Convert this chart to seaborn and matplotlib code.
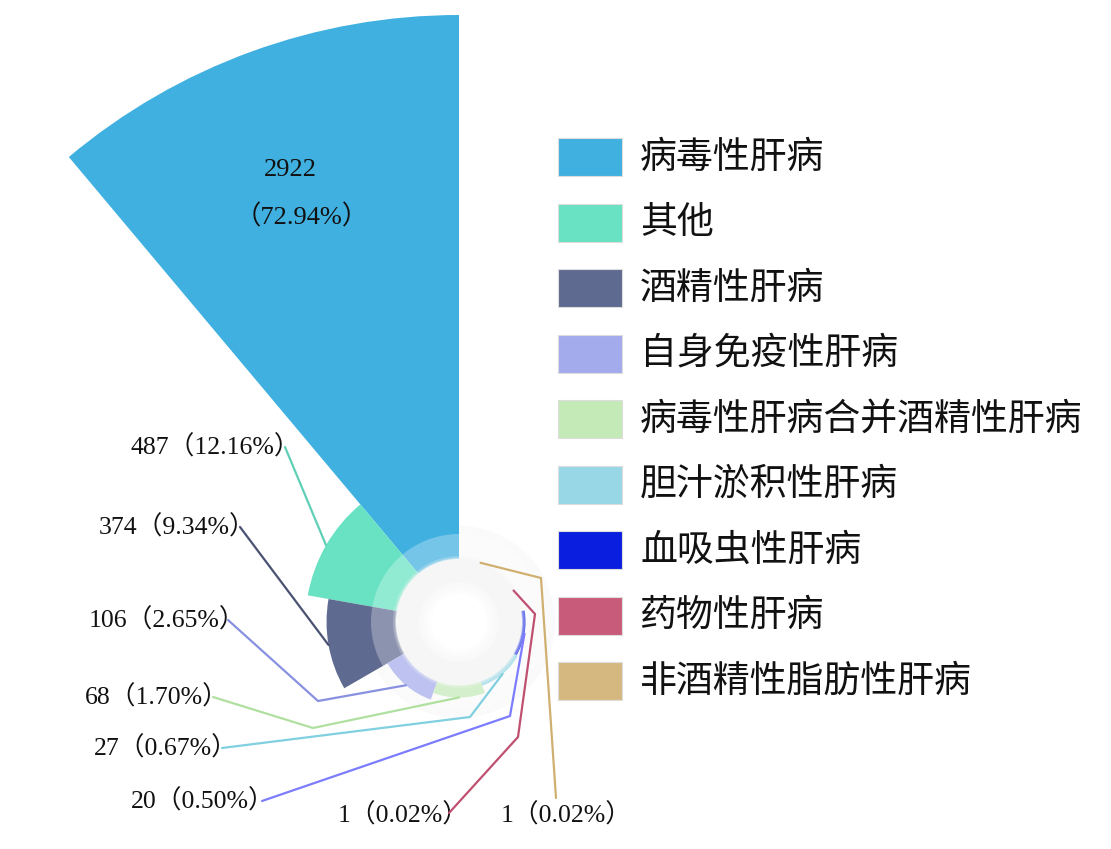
import numpy as np
import matplotlib
matplotlib.use("Agg")
import matplotlib.pyplot as plt
from matplotlib.patches import Wedge, Circle, Rectangle
import seaborn as sns

# ---------------- data ----------------
categories = ['病毒性肝病', '其他', '酒精性肝病', '自身免疫性肝病',
              '病毒性肝病合并酒精性肝病', '胆汁淤积性肝病', '血吸虫性肝病',
              '药物性肝病', '非酒精性脂肪性肝病']
counts = [2922, 487, 374, 106, 68, 27, 20, 1, 1]
colors = ['#40b0e0', '#68e2c2', '#5f6a90', '#a4abec', '#c4eab8',
          '#98d8e6', '#0a1ee0', '#c85a7a', '#d4b880']

# ---------------- style ----------------
sns.set_theme(style="white")
plt.rcParams['font.family'] = ['Noto Sans CJK SC', 'DejaVu Sans']
SERIF = ['Liberation Serif', 'Noto Sans CJK SC']

W, H = 1111, 849
fig = plt.figure(figsize=(W / 100, H / 100), dpi=100)
ax = fig.add_axes([0, 0, 1, 1])
ax.set_xlim(0, W)
ax.set_ylim(0, H)
ax.set_aspect('equal')
ax.axis('off')

def py(y):  # pixel-from-top -> data y
    return H - y

# rose layout (ECharts-like roseType radius)
CX, CY = 459, py(622)
R_MAX, R0 = 607, 63
n = len(counts)
step = 360.0 / n
vmin, vmax = min(counts), max(counts)
total = sum(counts)
radii = [R0 + (v - vmin) / (vmax - vmin) * (R_MAX - R0) for v in counts]

# faint shadow ring around the hole
ax.add_patch(Circle((CX, CY), 96, color='#fafafa', zorder=1, lw=0))

for i, (v, r, c) in enumerate(zip(counts, radii, colors)):
    t1 = 90 + step * i
    t2 = t1 + step
    if r - R0 > 0.1:
        ax.add_patch(Wedge((CX, CY), r, t1, t2, width=r - R0, facecolor=c,
                           edgecolor='none', lw=0, zorder=2))

# translucent inner ring + hole
ax.add_patch(Wedge((CX, CY), 88, 0, 360, width=26, facecolor='white',
                   alpha=0.28, lw=0, zorder=3))
for rr, a in [(66, 0.25), (64, 0.5)]:
    ax.add_patch(Circle((CX, CY), rr, color='#f7f7f7', alpha=a, lw=0, zorder=4))
ax.add_patch(Circle((CX, CY), 62, color='#f6f6f6', lw=0, zorder=4))
for rr, col in [(40, '#f9f9f9'), (35, '#fbfbfb'), (31, '#fdfdfd'), (28, '#ffffff')]:
    ax.add_patch(Circle((CX, CY), rr, color=col, lw=0, zorder=5))

# ---------------- labels ----------------
def anchor(i):
    mid = np.deg2rad(90 + step * (i + 0.5))
    r = radii[i]
    return CX + r * np.cos(mid), CY + r * np.sin(mid)

pct = [f"{100 * v / total:.2f}%" for v in counts]

# first label inside the big sector
ax.text(290, py(170), f"{counts[0]}", fontsize=19, family=SERIF,
        ha='center', va='center', color='#111', zorder=6)
ax.text(302, py(217), f"（{pct[0]}）", fontsize=19, family=SERIF,
        ha='center', va='center', color='#111', zorder=6)

# (text x, text y, ha, polyline points (pixel coords) before the anchor)
label_layout = {
    1: (300, 447, 'right', [(285, 447)]),
    2: (255, 527, 'right', [(240, 527)]),
    3: (245, 620, 'right', [(228, 620), (318, 701)]),
    4: (229, 697, 'right', [(213, 697), (313, 728)]),
    5: (238, 748, 'right', [(222, 748), (470, 717)]),
    6: (275, 801, 'right', [(262, 801), (510, 716)]),
    7: (469, 815, 'right', [(449, 813), (518, 737), (535, 614)]),
    8: (566, 815, 'center', [(556, 798), (541, 578)]),
}
line_colors = ['#40b0e0', '#5fcfb6', '#4a5272', '#8890e0', '#b0e0a0',
               '#80d0e0', '#7c7cff', '#c05070', '#d0b070']

for i, (tx, ty, ha, pts) in label_layout.items():
    ax.text(tx, py(ty), f"{counts[i]}（{pct[i]}）", fontsize=18.5,
            family=SERIF, ha=ha, va='center', color='#111', zorder=6)
    xs = [p[0] for p in pts]
    ys = [py(p[1]) for p in pts]
    axp, ayp = anchor(i)
    xs.append(axp)
    ys.append(ayp)
    ax.plot(xs, ys, color=line_colors[i], lw=1.6, zorder=6,
            solid_joinstyle='miter')

# ---------------- legend ----------------
LEG_X, LEG_Y0, LEG_DY = 558, 157, 65.5
for i, (cat, c) in enumerate(zip(categories, colors)):
    yc = LEG_Y0 + LEG_DY * i
    ax.add_patch(Rectangle((LEG_X, py(yc + 19)), 64, 38, facecolor=c,
                           edgecolor='#dddddd', lw=0.8, zorder=6))
    ax.text(LEG_X + 82, py(yc), cat, fontsize=26.6, ha='left', va='center',
            color='#111', zorder=6)

fig.savefig('out.png', dpi=100)
